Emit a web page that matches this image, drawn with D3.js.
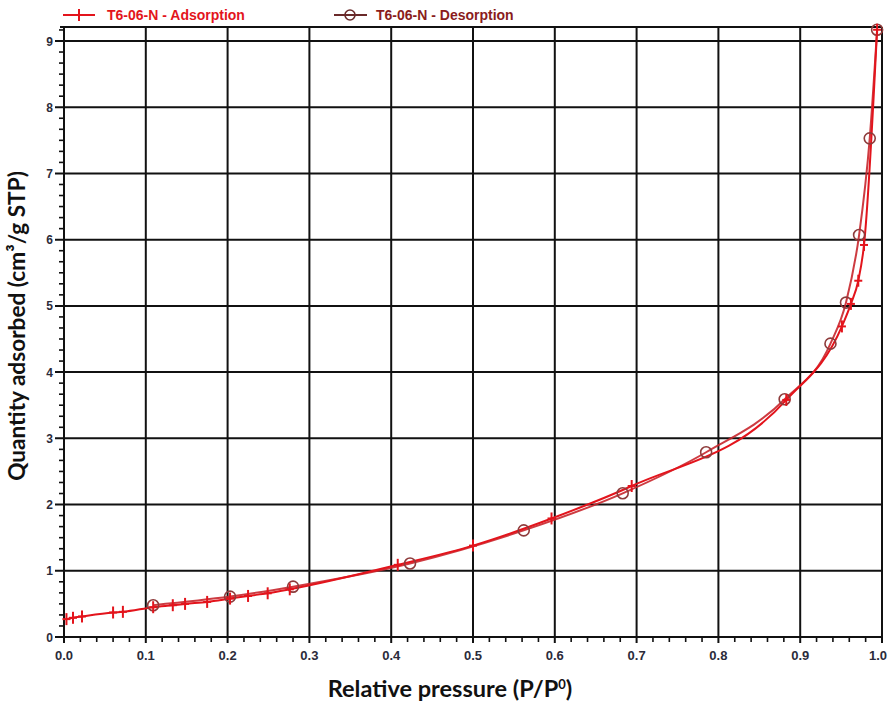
<!DOCTYPE html>
<html><head><meta charset="utf-8">
<script src="https://cdn.jsdelivr.net/npm/d3@7"></script>
<style>html,body{margin:0;padding:0;background:#fff;}svg{display:block;}</style>
</head><body>
<svg id="chart" width="888" height="707"></svg>
<script>
// ---- data ----
const adsP = [0.003,0.011,0.022,0.060,0.072,0.109,0.133,0.148,0.175,0.203,0.225,0.249,0.276,0.408,0.500,0.596,0.694,0.883,0.951,0.962,0.971,0.978,0.994];
const adsQ = [0.27,0.29,0.31,0.37,0.38,0.45,0.48,0.50,0.53,0.58,0.62,0.66,0.72,1.09,1.38,1.79,2.28,3.58,4.69,5.03,5.38,5.92,9.17];
const desP = [0.994,0.985,0.972,0.956,0.937,0.881,0.785,0.683,0.562,0.423,0.280,0.203,0.109];
const desQ = [9.17,7.53,6.07,5.05,4.43,3.59,2.79,2.17,1.61,1.11,0.76,0.61,0.48];
const xTicks = [0,0.1,0.2,0.3,0.4,0.5,0.6,0.7,0.8,0.9,1.0];
const xTickLabels = ["0.0","0.1","0.2","0.3","0.4","0.5","0.6","0.7","0.8","0.9","1.0"];
const yTicks = [0,1,2,3,4,5,6,7,8,9];
const legendLabels = ["T6-06-N - Adsorption","T6-06-N - Desorption"];
const xTitle = "Relative pressure (P/P";
const yTitle = "Quantity adsorbed (cm³/g STP)";

// ---- layout ----
const svg = d3.select("#chart");
const x = d3.scaleLinear().domain([0,1]).range([64,882]);
const y = d3.scaleLinear().domain([0,9]).range([637,41]);
const yTopVal = 9.21;
const adsColor = "#e3141c", desLine = "#c8262c", desMarker = "#8e3b3b";
const titleFont = "Lato, Open Sans, sans-serif";

// grid
const g = svg.append("g");
g.selectAll(".vx").data(xTicks).join("line")
  .attr("x1",d=>x(d)).attr("x2",d=>x(d)).attr("y1",y(yTopVal)).attr("y2",y(0)+6)
  .attr("stroke","#111").attr("stroke-width",2);
g.selectAll(".hy").data(yTicks).join("line")
  .attr("x1",x(0)-9).attr("x2",x(1)).attr("y1",d=>y(d)).attr("y2",d=>y(d))
  .attr("stroke","#111").attr("stroke-width",2);
g.append("line").attr("x1",x(0)-4).attr("x2",x(1)).attr("y1",y(yTopVal)).attr("y2",y(yTopVal))
  .attr("stroke","#111").attr("stroke-width",2);
// minor ticks
const xMinor = d3.range(0,1.0001,0.02).filter(v=>Math.abs(v*10-Math.round(v*10))>1e-6);
g.selectAll(".mx").data(xMinor).join("line")
  .attr("x1",d=>x(d)).attr("x2",d=>x(d)).attr("y1",y(0)).attr("y2",y(0)+5)
  .attr("stroke","#111").attr("stroke-width",1.6);
const yMinor = [];
for (let i=0;i<=9;i++){ for(let k=1;k<6;k++){ const v=i+k/6; if(v<yTopVal) yMinor.push(v);} }
g.selectAll(".my").data(yMinor).join("line")
  .attr("x1",x(0)-5).attr("x2",x(0)).attr("y1",d=>y(d)).attr("y2",d=>y(d))
  .attr("stroke","#111").attr("stroke-width",1.6);

// tick labels
g.selectAll(".xl").data(xTicks).join("text")
  .attr("x",(d,i)=> i===xTicks.length-1 ? 887 : x(d)).attr("y",y(0)+23)
  .attr("text-anchor",(d,i)=> i===xTicks.length-1 ? "end" : "middle")
  .attr("font-family","Liberation Sans, Arial, sans-serif").attr("font-weight","bold")
  .attr("font-size",13).attr("fill","#2b2b3a")
  .text((d,i)=>xTickLabels[i]);
g.selectAll(".yl").data(yTicks).join("text")
  .attr("x",x(0)-11).attr("y",d=>y(d)+4.5).attr("text-anchor","end")
  .attr("font-family","Liberation Sans, Arial, sans-serif").attr("font-weight","bold")
  .attr("font-size",12).attr("fill","#2b2b3a")
  .text(d=>d);

// axis titles
const xt = svg.append("text").attr("x",450).attr("y",697).attr("text-anchor","middle")
  .attr("font-family",titleFont).attr("font-weight","bold")
  .attr("font-size",20).attr("fill","#111");
xt.append("tspan").text(xTitle);
xt.append("tspan").attr("dy",-8).attr("font-size",13).text("0");
xt.append("tspan").attr("dy",8).text(")");
const xw = xt.node().getComputedTextLength();
xt.attr("font-size", 20*246/xw);
const ytn = svg.append("text").attr("transform","translate(25,326) rotate(-90)").attr("text-anchor","middle")
  .attr("font-family",titleFont).attr("font-weight","bold")
  .attr("font-size",20).attr("fill","#111").text(yTitle);
const yw = ytn.node().getComputedTextLength();
ytn.attr("font-size", 20*310/yw);

// lines
const ads = adsP.map((p,i)=>[p,adsQ[i]]);
const des = desP.map((p,i)=>[p,desQ[i]]).sort((a,b)=>a[0]-b[0]);
const line = d3.line().x(d=>x(d[0])).y(d=>y(d[1])).curve(d3.curveMonotoneX);
svg.append("path").attr("d",line(des)).attr("fill","none").attr("stroke",desLine).attr("stroke-width",2).attr("opacity",0.9);
svg.append("path").attr("d",line(ads)).attr("fill","none").attr("stroke",adsColor).attr("stroke-width",2);

// markers
function plus(sel, cx, cy){
  sel.append("line").attr("x1",cx-4).attr("x2",cx+4).attr("y1",cy).attr("y2",cy).attr("stroke",adsColor).attr("stroke-width",2);
  sel.append("line").attr("x1",cx).attr("x2",cx).attr("y1",cy-6).attr("y2",cy+6).attr("stroke",adsColor).attr("stroke-width",2);
}
const mk = svg.append("g");
des.forEach(d=>{
  mk.append("circle").attr("cx",x(d[0])).attr("cy",y(d[1])).attr("r",5.5)
    .attr("fill","none").attr("stroke",desMarker).attr("stroke-width",1.6);
});
ads.forEach(d=>plus(mk, x(d[0]), y(d[1])));

// legend
const lg = svg.append("g");
lg.append("line").attr("x1",63).attr("x2",95).attr("y1",15).attr("y2",15).attr("stroke",adsColor).attr("stroke-width",2);
plus(lg, 79, 15);
lg.append("text").attr("x",107).attr("y",20).attr("font-family","Liberation Sans, Arial, sans-serif")
  .attr("font-size",14).attr("font-weight","bold").attr("fill",adsColor).text(legendLabels[0]);
lg.append("line").attr("x1",334).attr("x2",367).attr("y1",15).attr("y2",15).attr("stroke","#6a2a2a").attr("stroke-width",2);
lg.append("circle").attr("cx",350).attr("cy",15).attr("r",5).attr("fill","none").attr("stroke","#6a2a2a").attr("stroke-width",1.6);
lg.append("text").attr("x",376).attr("y",20).attr("font-family","Liberation Sans, Arial, sans-serif")
  .attr("font-size",14).attr("font-weight","bold").attr("fill","#8a1c1c").text(legendLabels[1]);
</script>
</body></html>
